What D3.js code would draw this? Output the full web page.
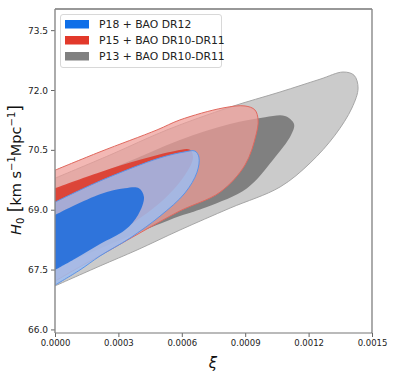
<!DOCTYPE html>
<html><head><meta charset="utf-8">
<script src="https://cdn.jsdelivr.net/npm/d3@7"></script>
<style>
html,body{margin:0;padding:0;background:#fff;}
svg{display:block;font-family:"DejaVu Sans",sans-serif;}
</style></head>
<body>
<svg id="chart" width="393" height="379"></svg>
<script>
// ---- data (ξ, H0); contours truncated at ξ = 0 ----
const xTicks = [0, 0.0003, 0.0006, 0.0009, 0.0012, 0.0015];
const xTickLabels = ["0.0000", "0.0003", "0.0006", "0.0009", "0.0012", "0.0015"];
const yTicks = [66.0, 67.5, 69.0, 70.5, 72.0, 73.5];
const yTickLabels = ["66.0", "67.5", "69.0", "70.5", "72.0", "73.5"];

const seriesNames = ["P18 + BAO DR12", "P15 + BAO DR10-DR11", "P13 + BAO DR10-DR11"];

// P13 + BAO DR10-DR11, 95% and 68% regions
const p13Outer = [
  [0, 69.79], [2.60e-4, 70.37], [5.30e-4, 71.00], [8.28e-4, 71.57], [10.65e-4, 71.95],
  [12.54e-4, 72.27], [13.63e-4, 72.45], [14.15e-4, 72.37], [14.34e-4, 72.05],
  [14.05e-4, 71.55], [13.25e-4, 70.87], [12.07e-4, 70.17], [10.65e-4, 69.57],
  [8.28e-4, 69.04], [5.91e-4, 68.49], [3.88e-4, 67.99], [2.13e-4, 67.59], [0, 67.09]
];
const p13Inner = [
  [0, 69.49], [3.08e-4, 70.12], [5.91e-4, 70.75], [8.28e-4, 71.15], [9.94e-4, 71.32],
  [10.88e-4, 71.35], [11.31e-4, 71.15], [11.17e-4, 70.87], [10.32e-4, 70.25],
  [9.09e-4, 69.54], [7.19e-4, 69.07], [5.91e-4, 68.84], [3.55e-4, 68.34],
  [1.66e-4, 67.92], [0, 67.54]
];
// P15 + BAO DR10-DR11
const p15Outer = [
  [0, 69.99], [2.13e-4, 70.45], [4.83e-4, 71.00], [5.91e-4, 71.25], [7.95e-4, 71.55],
  [8.99e-4, 71.60], [9.46e-4, 71.50], [9.61e-4, 71.25], [9.51e-4, 70.87],
  [8.99e-4, 70.12], [7.81e-4, 69.44], [5.91e-4, 68.97], [4.26e-4, 68.49],
  [2.60e-4, 67.99], [1.18e-4, 67.57], [0, 67.21]
];
const p15Inner = [
  [0, 69.54], [2.13e-4, 69.94], [4.02e-4, 70.25], [5.68e-4, 70.47], [6.39e-4, 70.50],
  [6.53e-4, 70.30], [6.15e-4, 69.87], [5.21e-4, 69.29], [4.02e-4, 68.79],
  [2.60e-4, 68.29], [1.18e-4, 67.87], [0, 67.54]
];
// P18 + BAO DR12
const p18Outer = [
  [0, 69.19], [2.13e-4, 69.72], [4.97e-4, 70.30], [6.15e-4, 70.45], [6.62e-4, 70.47],
  [6.81e-4, 70.32], [6.72e-4, 69.94], [6.15e-4, 69.42], [4.97e-4, 68.84],
  [3.55e-4, 68.29], [2.13e-4, 67.84], [1.18e-4, 67.49], [0, 67.11]
];
const p18Inner = [
  [0, 68.87], [2.13e-4, 69.39], [3.31e-4, 69.54], [3.97e-4, 69.54], [4.21e-4, 69.32],
  [3.93e-4, 68.87], [3.31e-4, 68.49], [2.13e-4, 68.14], [0.95e-4, 67.77], [0, 67.49]
];

// ---- layout ----
const svg = d3.select("#chart");
const L = 55, R = 372, T = 9, B = 333;
const x = d3.scaleLinear().domain([0, 0.0015]).range([L, R]);
const y = d3.scaleLinear().domain([65.91, 74.03]).range([B, T]);

svg.append("defs").append("clipPath").attr("id", "plotclip")
  .append("rect").attr("x", L).attr("y", T).attr("width", R - L).attr("height", B - T);

const g = svg.append("g").attr("clip-path", "url(#plotclip)");
const line = d3.line().x(d => x(d[0])).y(d => y(d[1])).curve(d3.curveCatmullRom.alpha(0.5));
function region(pts, fill, opacity, stroke) {
  g.append("path").attr("d", line(pts) + "Z")
    .attr("fill", fill).attr("fill-opacity", opacity)
    .attr("stroke", stroke || "none").attr("stroke-width", stroke ? 1 : 0)
    .attr("stroke-linejoin", "round");
}
region(p13Outer, "#cbcbcb", 1, "#a6a6a6");
region(p13Inner, "#808080", 1, null);
region(p15Outer, "#ee9d97", 0.72, "#e0685e");
region(p15Inner, "#dd3c2f", 0.9, null);
region(p18Outer, "#9dbdf0", 0.85, "#5b93e8");
region(p18Inner, "#1f6cdc", 0.88, null);

// ---- axes ----
const axColor = "#333";
const xAxis = d3.axisBottom(x).tickValues(xTicks).tickFormat((d, i) => xTickLabels[i]).tickSize(4).tickPadding(3);
const yAxis = d3.axisLeft(y).tickValues(yTicks).tickFormat((d, i) => yTickLabels[i]).tickSize(4).tickPadding(3);
const gx = svg.append("g").attr("transform", `translate(0,${B})`).call(xAxis);
const gy = svg.append("g").attr("transform", `translate(${L},0)`).call(yAxis);
[gx, gy].forEach(a => {
  a.select(".domain").remove();
  a.selectAll(".tick line").attr("stroke", "#666").attr("stroke-width", 1);
  a.selectAll(".tick text").attr("fill", "#222").attr("font-family", "DejaVu Sans");
});
gx.selectAll(".tick text").attr("font-size", 8.5);
gy.selectAll(".tick text").attr("font-size", 9).attr("dy", "0.34em");

// spines
svg.append("line").attr("x1", L).attr("x2", R).attr("y1", T).attr("y2", T).attr("stroke", "#333").attr("stroke-width", 1.2);
svg.append("line").attr("x1", R).attr("x2", R).attr("y1", T).attr("y2", B).attr("stroke", "#888").attr("stroke-width", 1.4);
svg.append("line").attr("x1", L).attr("x2", L).attr("y1", T).attr("y2", B).attr("stroke", "#888").attr("stroke-width", 1.4);
svg.append("line").attr("x1", L).attr("x2", R).attr("y1", B).attr("y2", B).attr("stroke", "#777").attr("stroke-width", 1.2);

// axis labels
svg.append("text").attr("x", 213).attr("y", 368).attr("text-anchor", "middle")
  .attr("font-size", 15).attr("font-style", "italic").attr("fill", "#111").text("ξ");

const yl = svg.append("text").attr("transform", "translate(21,170) rotate(-90)")
  .attr("text-anchor", "middle").attr("font-size", 14.5).attr("fill", "#111");
yl.append("tspan").attr("font-style", "italic").text("H");
yl.append("tspan").attr("font-size", 10).attr("dy", 3).text("0");
yl.append("tspan").attr("dy", -3).attr("font-size", 17).text(" [");
yl.append("tspan").text("km s");
yl.append("tspan").attr("font-size", 10).attr("dy", -6).text("−1");
yl.append("tspan").attr("dy", 6).text("Mpc");
yl.append("tspan").attr("font-size", 10).attr("dy", -6).text("−1");
yl.append("tspan").attr("dy", 6).attr("font-size", 17).text("]");

// ---- legend ----
const legendColors = ["#0f6fe8", "#e2392b", "#808080"];
const lg = svg.append("g");
lg.append("rect").attr("x", 60.5).attr("y", 14.5).attr("width", 161).attr("height", 53)
  .attr("rx", 2.5).attr("fill", "#fff").attr("fill-opacity", 0.85).attr("stroke", "#d8d8d8");
seriesNames.forEach((name, i) => {
  const yy = 20 + i * 16;
  lg.append("rect").attr("x", 65).attr("y", yy).attr("width", 24).attr("height", 8.5).attr("fill", legendColors[i]);
  lg.append("text").attr("x", 99).attr("y", yy + 8.3).attr("font-size", 10.8).attr("fill", "#222").text(name);
});
</script>
</body></html>
